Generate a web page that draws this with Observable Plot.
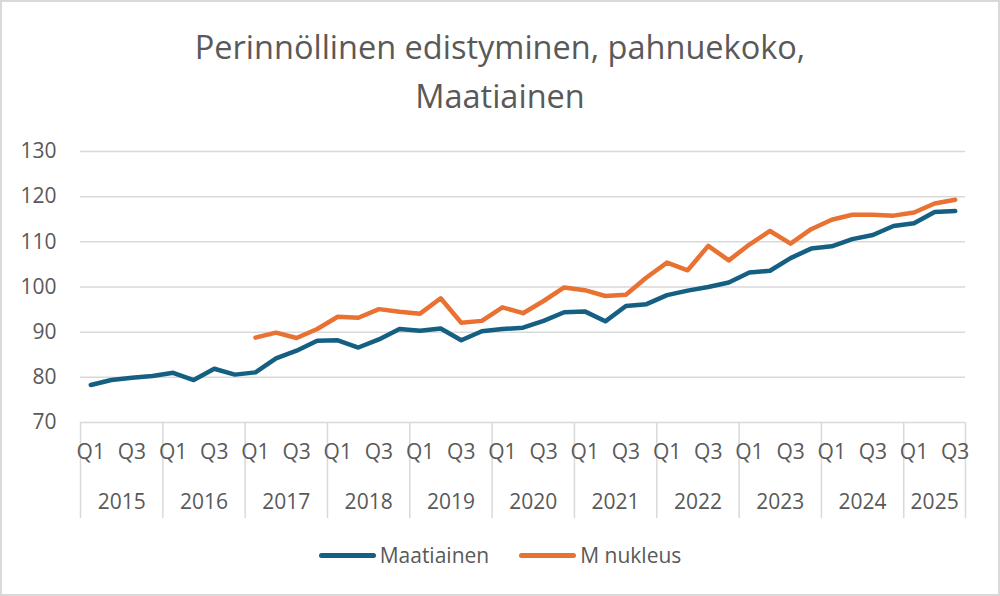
<!DOCTYPE html>
<html>
<head>
<meta charset="utf-8">
<script src="https://cdn.jsdelivr.net/npm/d3@7"></script>
<script src="https://cdn.jsdelivr.net/npm/@observablehq/plot@0.6"></script>
<style>
  html, body { margin: 0; padding: 0; background: #fff; }
  #chart { position: relative; width: 1000px; height: 596px; font-family: "Open Sans", sans-serif; color: #595959; background: #fff; overflow: hidden; }
  #title { height: 125px; box-sizing: border-box; padding-top: 22px; text-align: center; font-size: 32.5px; line-height: 49px; }
  #plot svg { display: block; }
  #legend { height: 71px; box-sizing: border-box; padding-top: 18px; display: flex; justify-content: center; align-items: flex-start; font-size: 21px; line-height: 24px; }
  .item { display: flex; align-items: center; margin: 0 15px; height: 24px; }
  .sw { display: inline-block; width: 57px; height: 5px; border-radius: 3px; margin-right: 4px; }
  #frame { position: absolute; left: 0; top: 0; right: 0; bottom: 0; border: 2px solid #d9d9d9; pointer-events: none; }
</style>
</head>
<body>
<div id="chart">
  <div id="title">Perinnöllinen edistyminen, pahnuekoko,<br>Maatiainen</div>
  <div id="plot"></div>
  <div id="legend"></div>
  <div id="frame"></div>
</div>
<script>
const years = [2015, 2016, 2017, 2018, 2019, 2020, 2021, 2022, 2023, 2024, 2025];
const quarters = ["Q1", "Q2", "Q3", "Q4"];
const seriesNames = ["Maatiainen", "M nukleus"];
const seriesColors = ["#156082", "#E97132"];
const yTicks = [70, 80, 90, 100, 110, 120, 130];

const maatiainen = [
  78.3, 79.4, 79.9, 80.3,
  81.0, 79.4, 81.9, 80.6,
  81.1, 84.2, 85.9, 88.1,
  88.2, 86.6, 88.4, 90.7,
  90.3, 90.8, 88.2, 90.2,
  90.7, 91.0, 92.5, 94.4,
  94.6, 92.4, 95.8, 96.2,
  98.2, 99.2, 100.0, 101.0,
  103.2, 103.6, 106.4, 108.5,
  109.0, 110.6, 111.5, 113.5,
  114.1, 116.6, 116.8
];
const mNukleus = [
  null, null, null, null,
  null, null, null, null,
  88.8, 89.9, 88.7, 90.7,
  93.4, 93.2, 95.1, 94.5,
  94.1, 97.5, 92.1, 92.5,
  95.5, 94.2, 96.9, 99.9,
  99.3, 98.0, 98.3, 102.1,
  105.4, 103.7, 109.1, 105.9,
  109.4, 112.4, 109.6, 112.8,
  114.9, 116.0, 116.0, 115.8,
  116.5, 118.5, 119.3
];

const rows = maatiainen.map((v, i) => ({
  pos: i + 0.5,
  year: years[Math.floor(i / 4)],
  quarter: quarters[i % 4],
  maatiainen: v,
  mNukleus: mNukleus[i]
}));
const n = rows.length;
const yearBounds = years.map((y, k) => 4 * k).concat([n]);
const yearCenters = years.map((y, k) => (4 * k + Math.min(4 * k + 4, n)) / 2);
const qTicks = rows.filter(d => d.quarter === "Q1" || d.quarter === "Q3").map(d => d.pos);

const chart = Plot.plot({
  width: 1000,
  height: 400,
  marginLeft: 80,
  marginRight: 35,
  marginTop: 26,
  marginBottom: 103,
  style: { fontFamily: "Open Sans, sans-serif", fontSize: "21px", color: "#595959", background: "transparent", overflow: "visible" },
  x: { domain: [0, n], label: null },
  y: { domain: [70, 130], label: null },
  marks: [
    Plot.ruleY(yTicks, { stroke: "#d9d9d9", strokeWidth: 1.5 }),
    Plot.axisY(yTicks, { tickSize: 0, tickPadding: 24, fontSize: 21 }),
    Plot.axisX(yearBounds, { tickSize: 96, tickFormat: () => "", stroke: "#d9d9d9", strokeWidth: 1.5 }),
    Plot.axisX(qTicks, { tickSize: 0, tickPadding: 22, fontSize: 21, tickFormat: d => quarters[Math.floor(d) % 4] }),
    Plot.axisX(yearCenters, { tickSize: 0, tickPadding: 72, fontSize: 21, tickFormat: d => String(years[Math.floor(d / 4)]) }),
    Plot.line(rows, { x: "pos", y: "maatiainen", stroke: seriesColors[0], strokeWidth: 4.5, strokeLinejoin: "round", strokeLinecap: "round" }),
    Plot.line(rows, { x: "pos", y: "mNukleus", stroke: seriesColors[1], strokeWidth: 4.5, strokeLinejoin: "round", strokeLinecap: "round" })
  ]
});
document.getElementById("plot").appendChild(chart);

const legend = document.getElementById("legend");
seriesNames.forEach((name, i) => {
  const item = document.createElement("div");
  item.className = "item";
  const sw = document.createElement("span");
  sw.className = "sw";
  sw.style.background = seriesColors[i];
  const label = document.createElement("span");
  label.textContent = name;
  item.appendChild(sw);
  item.appendChild(label);
  legend.appendChild(item);
});
</script>
</body>
</html>
